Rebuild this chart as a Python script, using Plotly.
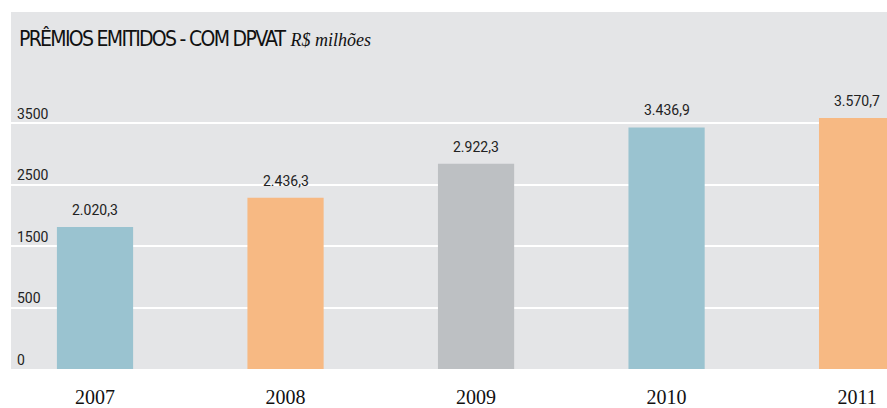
import numpy as np
import plotly.graph_objects as go

years = ["2007", "2008", "2009", "2010", "2011"]
premios = [2020.3, 2436.3, 2922.3, 3436.9, 3570.7]
bar_colors = ["#9AC3D0", "#F7B983", "#BDC0C3", "#9AC3D0", "#F7B983"]
y_tick_labels = ["0", "500", "1500", "2500", "3500"]
title_main = "PRÊMIOS EMITIDOS - COM DPVAT"
title_unit = "R$ milhões"


def fmt_br(v):
    s = f"{v:,.1f}"
    return s.replace(",", "X").replace(".", ",").replace("X", ".")


# gridlines are evenly spaced in the reference, top one at 3500
tick_positions = list(np.linspace(0, 3500, len(y_tick_labels)))
x_idx = list(range(len(years)))

fig = go.Figure()
fig.add_trace(go.Bar(
    x=x_idx,
    y=premios,
    marker=dict(color=bar_colors, line=dict(width=0)),
    width=0.4,
    hoverinfo="skip",
))

for i, v in zip(x_idx, premios):
    fig.add_annotation(
        x=i, y=v, text=fmt_br(v), showarrow=False,
        xref="x", yref="y",
        xanchor="center", yanchor="bottom", yshift=7,
        font=dict(family="Roboto", size=14, color="#222222"),
    )

fig.add_annotation(
    xref="paper", yref="paper", x=0.007, y=0.926,
    xanchor="left", yanchor="middle", showarrow=False,
    text=(f"<span style='font-family:\"DejaVu Sans Condensed\"; letter-spacing:-1.7px'>{title_main}</span> "
          f"<span style='font-family:\"Liberation Serif\"; font-size:18px'><i>{title_unit}</i></span>"),
    font=dict(family="DejaVu Sans Condensed", size=21, color="#111111"),
)

fig.update_layout(
    width=887, height=408,
    margin=dict(l=11, r=0, t=12, b=35),
    paper_bgcolor="white",
    plot_bgcolor="#E4E5E7",
    showlegend=False,
    xaxis=dict(
        range=[-0.441, 4.157],
        tickvals=x_idx,
        ticktext=years,
        showgrid=False, zeroline=False, showline=False, ticks="",
        tickfont=dict(family="Liberation Serif", size=20, color="#111111"),
        ticklabelstandoff=14,
    ),
    yaxis=dict(
        range=[0, 5080],
        tickvals=tick_positions,
        ticktext=y_tick_labels,
        showgrid=True, gridcolor="white", gridwidth=2,
        zeroline=False, showline=False, ticks="",
        ticklabelposition="inside",
        ticklabeloverflow="allow",
        ticklabelshift=-9,
        ticklabelstandoff=3,
        tickfont=dict(family="Roboto", size=14, color="#222222"),
    ),
)

fig.write_html(
    "out.html",
    config={"displayModeBar": False},
    post_script="document.body.style.margin='0px';document.body.style.overflow='hidden';",
)
